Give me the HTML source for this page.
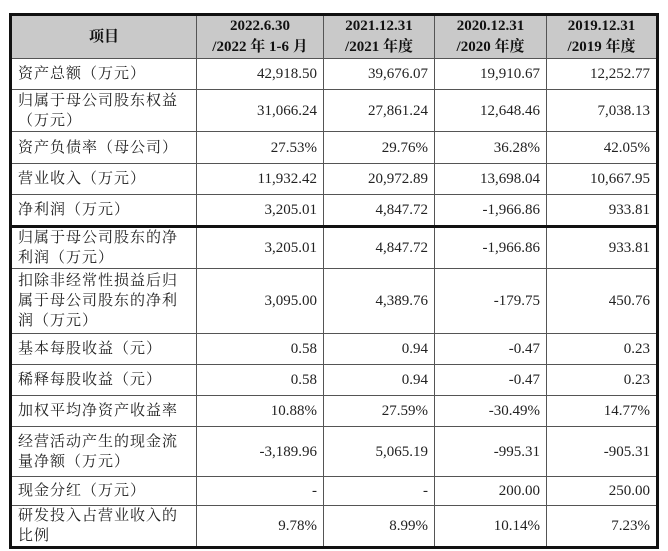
<!DOCTYPE html>
<html><head><meta charset="utf-8"><style>
body{margin:0;background:#fff;width:668px;height:551px;overflow:hidden;}
table{position:absolute;left:9px;top:13px;border-collapse:collapse;table-layout:fixed;width:647px;border:3px solid #111;
font-family:"Liberation Serif","Noto Serif CJK SC",serif;font-size:15px;color:#222;}
td,th{border:1px solid #555;padding:0 6px;line-height:20px;overflow:hidden;}
th{background:#c9c9c9;font-weight:bold;text-align:center;color:#111;line-height:21px;}
td{text-align:right;}
td:first-child{text-align:left;letter-spacing:1px;}
tr.thick td{border-top:3px solid #111;}
</style></head><body>
<table>
<colgroup><col style="width:186px"><col style="width:127px"><col style="width:111px"><col style="width:112px"><col style="width:111px"></colgroup>
<tr style="height:43px"><th>项目</th><th>2022.6.30<br>/2022 年 1-6 月</th><th>2021.12.31<br>/2021 年度</th><th>2020.12.31<br>/2020 年度</th><th>2019.12.31<br>/2019 年度</th></tr>
<tr style="height:31px"><td>资产总额（万元）</td><td>42,918.50</td><td>39,676.07</td><td>19,910.67</td><td>12,252.77</td></tr>
<tr style="height:42px"><td>归属于母公司股东权益（万元）</td><td>31,066.24</td><td>27,861.24</td><td>12,648.46</td><td>7,038.13</td></tr>
<tr style="height:32px"><td>资产负债率（母公司）</td><td>27.53%</td><td>29.76%</td><td>36.28%</td><td>42.05%</td></tr>
<tr style="height:31px"><td>营业收入（万元）</td><td>11,932.42</td><td>20,972.89</td><td>13,698.04</td><td>10,667.95</td></tr>
<tr style="height:32px"><td>净利润（万元）</td><td>3,205.01</td><td>4,847.72</td><td>-1,966.86</td><td>933.81</td></tr>
<tr class="thick" style="height:42px"><td>归属于母公司股东的净利润（万元）</td><td>3,205.01</td><td>4,847.72</td><td>-1,966.86</td><td>933.81</td></tr>
<tr style="height:65px"><td>扣除非经常性损益后归属于母公司股东的净利润（万元）</td><td>3,095.00</td><td>4,389.76</td><td>-179.75</td><td>450.76</td></tr>
<tr style="height:31px"><td>基本每股收益（元）</td><td>0.58</td><td>0.94</td><td>-0.47</td><td>0.23</td></tr>
<tr style="height:31px"><td>稀释每股收益（元）</td><td>0.58</td><td>0.94</td><td>-0.47</td><td>0.23</td></tr>
<tr style="height:31px"><td>加权平均净资产收益率</td><td>10.88%</td><td>27.59%</td><td>-30.49%</td><td>14.77%</td></tr>
<tr style="height:50px"><td>经营活动产生的现金流量净额（万元）</td><td>-3,189.96</td><td>5,065.19</td><td>-995.31</td><td>-905.31</td></tr>
<tr style="height:29px"><td>现金分红（万元）</td><td>-</td><td>-</td><td>200.00</td><td>250.00</td></tr>
<tr style="height:37px"><td>研发投入占营业收入的比例</td><td>9.78%</td><td>8.99%</td><td>10.14%</td><td>7.23%</td></tr>
</table>
</body></html>
